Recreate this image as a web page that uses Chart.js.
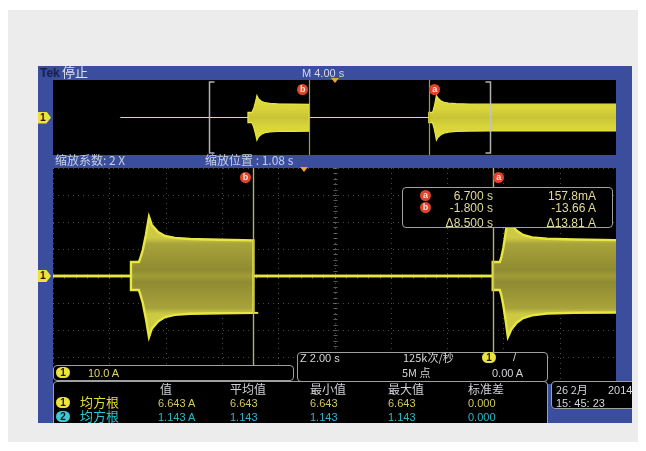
<!DOCTYPE html>
<html><head><meta charset="utf-8">
<script src="https://cdn.jsdelivr.net/npm/chart.js@4.4.1/dist/chart.umd.min.js"></script>
<style>
html,body{margin:0;padding:0;background:#fff;width:646px;height:451px;overflow:hidden;}
#bg{position:absolute;left:8px;top:10px;width:630px;height:432px;background:#ececec;}
#scope{position:absolute;left:38px;top:66px;width:594px;height:357px;background:#3a4e9d;overflow:hidden;
  font-family:"Liberation Sans","Noto Sans CJK SC",sans-serif;font-size:11px;color:#d6dae8;}
.t{position:absolute;white-space:nowrap;line-height:12px;height:12px;}
.cn{font-family:"Noto Sans CJK SC","Liberation Sans",sans-serif;}
canvas{position:absolute;background:#000;}
#ov{left:15px;top:14px;}
#mn{left:15px;top:102px;}
.box{position:absolute;background:#000;border:1px solid #a0a0a0;border-radius:4px;box-sizing:border-box;}
.mk{position:absolute;width:11px;height:11px;border-radius:50%;background:#e0442a;color:#f6e6d8;font-size:9px;line-height:11px;text-align:center;font-weight:bold;font-family:"Liberation Sans",sans-serif;}
.pill{position:absolute;height:11px;border-radius:6px;color:#1a1a1a;font-size:10px;line-height:11px;text-align:center;font-weight:bold;}
.yel{background:#ece43c;}
.cya{background:#3cc8d4;}
.ch{position:absolute;width:13px;height:12px;background:#ece43c;color:#1a1a1a;font-size:10px;font-weight:bold;line-height:12px;padding-left:2px;box-sizing:border-box;
  clip-path:polygon(0 0,65% 0,100% 50%,65% 100%,0 100%);}
.trg{position:absolute;width:0;height:0;border-left:4px solid transparent;border-right:4px solid transparent;border-top:5px solid #f0a030;}
.ry{color:#e2dc98;}
.vy{color:#cfc562;}
.vc{color:#2fb6c6;}
.hd{color:#cfd0d4;}
</style></head>
<body>
<div id="bg"></div>
<div id="scope">
  <canvas id="ov" width="563" height="75"></canvas>
  <canvas id="mn" width="563" height="216"></canvas>

  <div class="t" style="left:2px;top:1px;font-weight:bold;font-size:12px;color:#17204a;">Tek</div>
  <div class="t cn" style="left:24px;top:0px;font-size:13px;color:#dde1ee;">停止</div>
  <div class="t" style="left:264px;top:1px;">M 4.00 s</div>
  <div class="t cn" style="left:17px;top:88px;font-size:12px;color:#c9cee2;">缩放系数: 2 X</div>
  <div class="t cn" style="left:167px;top:88px;font-size:12px;color:#c9cee2;">缩放位置 : 1.08 s</div>

  <div class="ch" id="ch1o">1</div>
  <div class="ch" id="ch1m">1</div>
  <div class="trg" id="trgO"></div>
  <div class="trg" id="trgM"></div>
  <div class="mk" id="mkOb">b</div>
  <div class="mk" id="mkOa">a</div>
  <div class="mk" id="mkMb">b</div>
  <div class="mk" id="mkMa">a</div>

  <!-- cursor readout -->
  <div class="box" style="left:364px;top:121px;width:211px;height:41px;"></div>
  <div class="mk" style="left:382px;top:124px;">a</div>
  <div class="mk" style="left:382px;top:136px;">b</div>

  <!-- scale box -->
  <div class="box" style="left:15px;top:299px;width:241px;height:16px;"></div>
  <div class="pill yel" style="left:18px;top:301px;width:14px;">1</div>
  <div class="t vy" style="left:50px;top:301px;color:#e0d860;" id="scaleTxt"></div>

  <!-- horizontal box -->
  <div class="box" style="left:259px;top:286px;width:251px;height:30px;"></div>
  <div class="t" style="left:262px;top:286px;color:#d4d4d8;">Z 2.00 s</div>
  <div class="t cn" style="left:365px;top:285px;color:#d4d4d8;">125k次/秒</div>
  <div class="t cn" style="left:364px;top:300px;color:#d4d4d8;">5M 点</div>
  <div class="pill yel" style="left:444px;top:286px;width:14px;">1</div>
  <div class="t" style="left:475px;top:285px;color:#d4d4d8;">/</div>
  <div class="t" style="left:454px;top:301px;color:#d4d4d8;">0.00 A</div>

  <!-- measurement table -->
  <div class="box" style="left:15px;top:315px;width:495px;height:60px;"></div>

  <!-- date -->
  <div class="box" style="left:513px;top:315px;width:95px;height:28px;"></div>
  <div class="t cn" style="left:518px;top:317px;color:#d4d6de;">26 2月</div>
  <div class="t" style="left:570px;top:318px;color:#d4d6de;">2014</div>
  <div class="t" style="left:518px;top:331px;color:#d4d6de;">15: 45: 23</div>
</div>

<script>
// ---------- data ----------
const timeS  = [-15.2, -6.15, -6.15, -5.87, -5.83, -5.73, -5.62, -5.51, -5.41, -5.19, -4.94, -4.59, -4.05, -2.99, -1.80, -1.80,
                 6.70,  6.70,  6.95,  7.00,  7.08,  7.16,  7.24,  7.36,  7.55,  7.78,  8.10,  8.63,  9.60, 11.08, 20.0];
const upperA = [0, 0, 5.2, 5.2, 6.2, 9.6, 15.2, 21.9, 18.9, 16.3, 14.8, 14.1, 13.7, 13.4, 13.2, 0,
                0, 5.2, 5.2, 6.6, 10.5, 16.0, 21.9, 19.2, 16.8, 15.2, 14.3, 13.8, 13.5, 13.3, 13.3];
const lowerA = [0, 0, -5.2, -5.2, -6.4, -10.0, -15.8, -22.6, -19.5, -16.8, -15.2, -14.4, -14.0, -13.8, -13.66, 0,
                0, -5.2, -5.2, -6.8, -11.0, -16.5, -22.6, -19.8, -17.3, -15.6, -14.6, -13.9, -13.6, -13.5, -13.5];
const stubS = [-1.80, -1.63];
const stubA = [-13.66, -13.66];

const cursorA = 6.700, cursorB = -1.800;
const mainDivS = 4.00, zoomDivS = 2.00, zoomPosS = 1.08, ampDiv = 10.0;

const readoutTime = ['6.700 s', '-1.800 s', 'Δ8.500 s'];
const readoutAmp  = ['157.8mA', '-13.66 A', 'Δ13.81 A'];
const scaleLabel = '10.0 A';
const measHeaders = ['值', '平均值', '最小值', '最大值', '标准差'];
const measName = '均方根';
const meas1 = ['6.643 A', '6.643', '6.643', '6.643', '0.000'];
const meas2 = ['1.143 A', '1.143', '1.143', '1.143', '0.000'];

// ---------- text from arrays ----------
const scope = document.getElementById('scope');
function addText(txt, left, top, cls, extra) {
  const d = document.createElement('div');
  d.className = 't ' + (cls || '');
  d.textContent = txt;
  d.style.left = left + 'px'; d.style.top = top + 'px';
  if (extra) Object.assign(d.style, extra);
  scope.appendChild(d); return d;
}
document.getElementById('scaleTxt').textContent = scaleLabel;
const rowTops = [124, 136, 151];
readoutTime.forEach((s, i) => addText(s, 0, rowTops[i], 'ry', {left: 'auto', right: (594 - 455) + 'px', fontSize: '12px'}));
readoutAmp.forEach((s, i) => addText(s, 0, rowTops[i], 'ry', {left: 'auto', right: (594 - 558) + 'px', fontSize: '12px'}));
const colX = [120, 192, 272, 350, 430];
measHeaders.forEach((s, i) => addText(s, colX[i] + (i === 0 ? 2 : 0), 317, 'cn hd', {fontSize: '12px'}));
[[meas1, 'yel', 'vy', '#e6dc3a', '1'], [meas2, 'cya', 'vc', '#2ec4d2', '2']].forEach((r, k) => {
  const top = 331 + k * 14;
  const p = document.createElement('div');
  p.className = 'pill ' + r[1]; p.textContent = r[4];
  p.style.left = '18px'; p.style.top = (top) + 'px'; p.style.width = '14px';
  scope.appendChild(p);
  addText(measName, 42, top - 1, 'cn', {fontSize: '13px', color: r[3]});
  r[0].forEach((v, i) => addText(v, colX[i], top, r[2]));
});

// ---------- plugins ----------
const gridPlugin = {
  id: 'scopeGrid',
  beforeDatasetsDraw(chart, args, o) {
    if (!o.on) return;
    const {ctx, chartArea: a, scales: {x, y}} = chart;
    ctx.save();
    ctx.strokeStyle = 'rgba(150,150,150,0.5)'; ctx.lineWidth = 1; ctx.setLineDash([1, 4]);
    for (let k = -5; k <= 5; k++) {
      const px = Math.round(x.getPixelForValue(zoomPosS + k * zoomDivS)) + 0.5;
      ctx.beginPath(); ctx.moveTo(px, a.top); ctx.lineTo(px, a.bottom); ctx.stroke();
    }
    for (let k = -4; k <= 4; k++) {
      const py = Math.round(y.getPixelForValue(k * ampDiv)) + 0.5;
      ctx.beginPath(); ctx.moveTo(a.left, py); ctx.lineTo(a.right, py); ctx.stroke();
    }
    ctx.setLineDash([]);
    ctx.strokeStyle = 'rgba(150,150,150,0.6)';
    const cy = Math.round(y.getPixelForValue(0)) + 0.5, cx = Math.round(x.getPixelForValue(zoomPosS)) + 0.5;
    for (let k = -25; k <= 25; k++) {
      const px = Math.round(x.getPixelForValue(zoomPosS + k * zoomDivS / 5)) + 0.5;
      ctx.beginPath(); ctx.moveTo(px, cy - 2); ctx.lineTo(px, cy + 2); ctx.stroke();
    }
    for (let k = -20; k <= 20; k++) {
      const py = Math.round(y.getPixelForValue(k * ampDiv / 5)) + 0.5;
      ctx.beginPath(); ctx.moveTo(cx - 2, py); ctx.lineTo(cx + 2, py); ctx.stroke();
    }
    ctx.restore();
  }
};
const cursorPlugin = {
  id: 'scopeCursors',
  afterDatasetsDraw(chart, args, o) {
    const {ctx, chartArea: a, scales: {x}} = chart;
    ctx.save();
    ctx.strokeStyle = o.color; ctx.lineWidth = o.width;
    [cursorA, cursorB].forEach(v => {
      const px = Math.round(x.getPixelForValue(v)) + 0.5;
      ctx.beginPath(); ctx.moveTo(px, a.top); ctx.lineTo(px, a.bottom); ctx.stroke();
    });
    if (o.bracket) {
      ctx.strokeStyle = 'rgba(195,195,195,0.9)'; ctx.lineWidth = 1.5;
      const l = Math.round(x.getPixelForValue(zoomPosS - 5 * zoomDivS)) + 0.5;
      const r = Math.round(x.getPixelForValue(zoomPosS + 5 * zoomDivS)) + 0.5;
      const t = a.top + 2, b = a.bottom - 2;
      ctx.beginPath(); ctx.moveTo(l + 5, t); ctx.lineTo(l, t); ctx.lineTo(l, b); ctx.lineTo(l + 5, b); ctx.stroke();
      ctx.beginPath(); ctx.moveTo(r - 5, t); ctx.lineTo(r, t); ctx.lineTo(r, b); ctx.lineTo(r - 5, b); ctx.stroke();
    }
    ctx.restore();
  }
};

function pts(xs, ys) { return xs.map((t, i) => ({x: t, y: ys[i]})); }
function burstFill(main) {
  return (c) => {
    const {chart} = c;
    if (!chart.chartArea) return 'rgba(200,200,50,0.85)';
    const y = chart.scales.y;
    const y0 = y.getPixelForValue(22), y1 = y.getPixelForValue(-22);
    const g = chart.ctx.createLinearGradient(0, y0, 0, y1);
    if (!main) {
      g.addColorStop(0, '#e2de3a'); g.addColorStop(0.3, '#d8d43a'); g.addColorStop(0.5, '#c8c436');
      g.addColorStop(0.7, '#d8d43a'); g.addColorStop(1, '#e2de3a');
      return g;
    }
    g.addColorStop(0, '#cfcb40');
    g.addColorStop(0.18, '#cdc942');
    g.addColorStop(0.23, '#a8a33a');
    g.addColorStop(0.45, '#8f8b31');
    g.addColorStop(0.5, '#a09c36');
    g.addColorStop(0.55, '#8f8b31');
    g.addColorStop(0.77, '#a8a33a');
    g.addColorStop(0.82, '#cdc942');
    g.addColorStop(1, '#cfcb40');
    return g;
  };
}
function makeChart(id, main) {
  const ds = [
    {data: pts(timeS, upperA), borderColor: '#e8e640', borderWidth: main ? 2.4 : 1.2, fill: false},
    {data: pts(timeS, lowerA), borderColor: '#e8e640', borderWidth: main ? 2.4 : 1.2, fill: '-1', backgroundColor: burstFill(main)}
  ];
  if (main) ds.push({data: pts(stubS, stubA), borderColor: '#e6e440', borderWidth: 2, fill: false});
  const xr = main ? [zoomPosS - 5 * zoomDivS, zoomPosS + 5 * zoomDivS] : [-5 * mainDivS, 5 * mainDivS];
  const yr = main ? 4 * ampDiv : 3.75 * ampDiv;
  return new Chart(document.getElementById(id), {
    type: 'line',
    data: {datasets: ds},
    options: {
      responsive: false, animation: false, events: [],
      layout: {padding: 0},
      elements: {point: {radius: 0}, line: {tension: 0}},
      plugins: {
        legend: {display: false}, tooltip: {enabled: false},
        scopeGrid: {on: main},
        scopeCursors: {color: main ? 'rgba(190,184,120,0.95)' : 'rgba(175,170,115,0.9)', width: main ? 1.4 : 1.2, bracket: !main}
      },
      scales: {
        x: {type: 'linear', min: xr[0], max: xr[1], display: false},
        y: {type: 'linear', min: -yr, max: yr, display: false}
      }
    },
    plugins: [gridPlugin, cursorPlugin]
  });
}
const ov = makeChart('ov', false);
const mn = makeChart('mn', true);

// ---------- markers positioned through the scales ----------
function placeX(id, chart, left, val, dx, top) {
  const el = document.getElementById(id);
  el.style.left = (left + chart.scales.x.getPixelForValue(val) + dx - el.offsetWidth / 2) + 'px';
  el.style.top = top + 'px';
}
placeX('mkOb', ov, 15, cursorB, -6.5, 18);
placeX('mkOa', ov, 15, cursorA, 6, 18);
placeX('mkMb', mn, 15, cursorB, -8, 106);
placeX('mkMa', mn, 15, cursorA, 6, 106);
placeX('trgO', ov, 15, 0, 0, 12);
placeX('trgM', mn, 15, 0, 0, 101);
const c1 = document.getElementById('ch1o'), c2 = document.getElementById('ch1m');
c1.style.left = '0px'; c1.style.top = (14 + ov.scales.y.getPixelForValue(0) - 6) + 'px';
c2.style.left = '0px'; c2.style.top = (102 + mn.scales.y.getPixelForValue(0) - 6) + 'px';
</script>
</body></html>
